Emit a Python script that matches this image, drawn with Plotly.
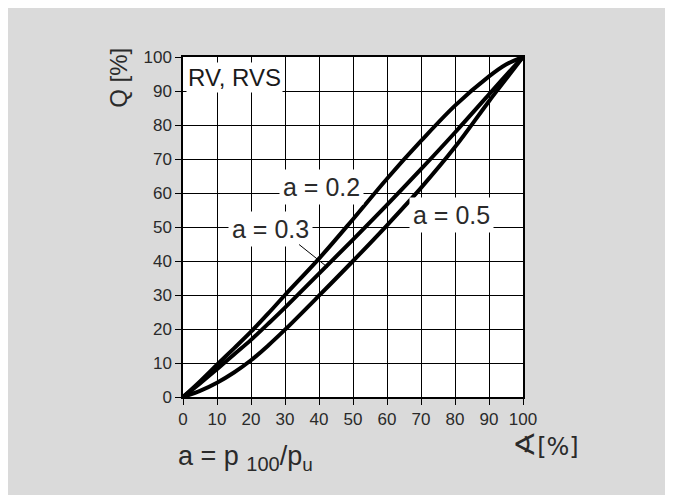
import plotly.graph_objects as go

# Valve stroke (x) in %
stroke = [0, 5, 10, 15, 20, 25, 30, 40, 50, 60, 70, 80, 90, 95, 100]
# Flow Q in % for each valve authority
q_a02 = [0, 4.6, 9.5, 14.3, 19.2, 24.5, 30.0, 40.7, 52.3, 64.2, 75.3, 85.7, 94.3, 97.8, 100]
q_a03 = [0, 4.0, 8.2, 12.5, 16.8, 21.5, 26.3, 36.3, 46.3, 56.5, 67.0, 77.8, 89.0, 94.6, 100]
q_a05 = [0, 1.8, 4.2, 7.2, 10.8, 15.1, 19.8, 29.8, 40.0, 50.5, 61.5, 73.5, 87.0, 93.5, 100]

ticks = [0, 10, 20, 30, 40, 50, 60, 70, 80, 90, 100]

labels = ["a = 0.2", "a = 0.3", "a = 0.5"]
label_x = [40.8, 25.8, 79.0]
label_y = [61.8, 49.4, 53.5]

leader_from = (33.7, 45.2)
leader_to = (42.6, 38.1)

FONT = "Liberation Sans, Arial, sans-serif"
TXT = "#2a2a2a"

fig = go.Figure()
for q in (q_a02, q_a03, q_a05):
    fig.add_trace(go.Scatter(
        x=stroke, y=q, mode="lines",
        line=dict(color="black", width=4, shape="spline", smoothing=1.0),
        showlegend=False, hoverinfo="skip"))

axis_common = dict(
    range=[0, 100], tickvals=ticks, ticktext=[str(t) for t in ticks],
    showgrid=True, gridcolor="black", gridwidth=1.3,
    showline=True, linecolor="black", linewidth=1.5, mirror=True,
    ticks="outside", ticklen=6, tickwidth=1.3, tickcolor="black",
    zeroline=False, fixedrange=True,
    tickfont=dict(family=FONT, size=17, color=TXT),
)
fig.update_xaxes(**axis_common)
fig.update_yaxes(**axis_common)

for t, x, y in zip(labels, label_x, label_y):
    fig.add_annotation(x=x, y=y, xref="x", yref="y", text=t, showarrow=False,
                       font=dict(family=FONT, size=25, color=TXT),
                       bgcolor="white", borderpad=3)

fig.add_annotation(x=leader_to[0], y=leader_to[1], ax=leader_from[0], ay=leader_from[1],
                   xref="x", yref="y", axref="x", ayref="y", text="",
                   showarrow=True, arrowhead=0, arrowwidth=1, arrowcolor="black")

fig.add_annotation(x=0.008, y=0.985, xref="paper", yref="paper", xanchor="left", yanchor="top",
                   text="RV, RVS", showarrow=False,
                   font=dict(family=FONT, size=24, color="#1a1a1a"),
                   bgcolor="white", borderpad=1)

fig.add_annotation(x=-0.19, y=0.94, xref="paper", yref="paper", xanchor="center", yanchor="middle",
                   text="Q [%]", textangle=-90, showarrow=False,
                   font=dict(family=FONT, size=24, color=TXT))

fig.add_annotation(x=1.065, y=-0.14, xref="paper", yref="paper", xanchor="center", yanchor="middle",
                   text="<span style='font-size:30px'>∢</span>[%]", showarrow=False,
                   font=dict(family="DejaVu Sans, " + FONT, size=24, color=TXT))

fig.add_annotation(x=-0.02, y=-0.18, xref="paper", yref="paper", xanchor="left", yanchor="middle",
                   text="a = p <sub><span style='font-size:20px'>100</span></sub>/p<sub>u</sub>",
                   showarrow=False,
                   font=dict(family=FONT, size=27, color=TXT))

fig.update_layout(
    width=665, height=487,
    margin=dict(l=175, r=150, t=49, b=98),
    paper_bgcolor="#dadada", plot_bgcolor="white",
)

fig.write_html("out.html")
